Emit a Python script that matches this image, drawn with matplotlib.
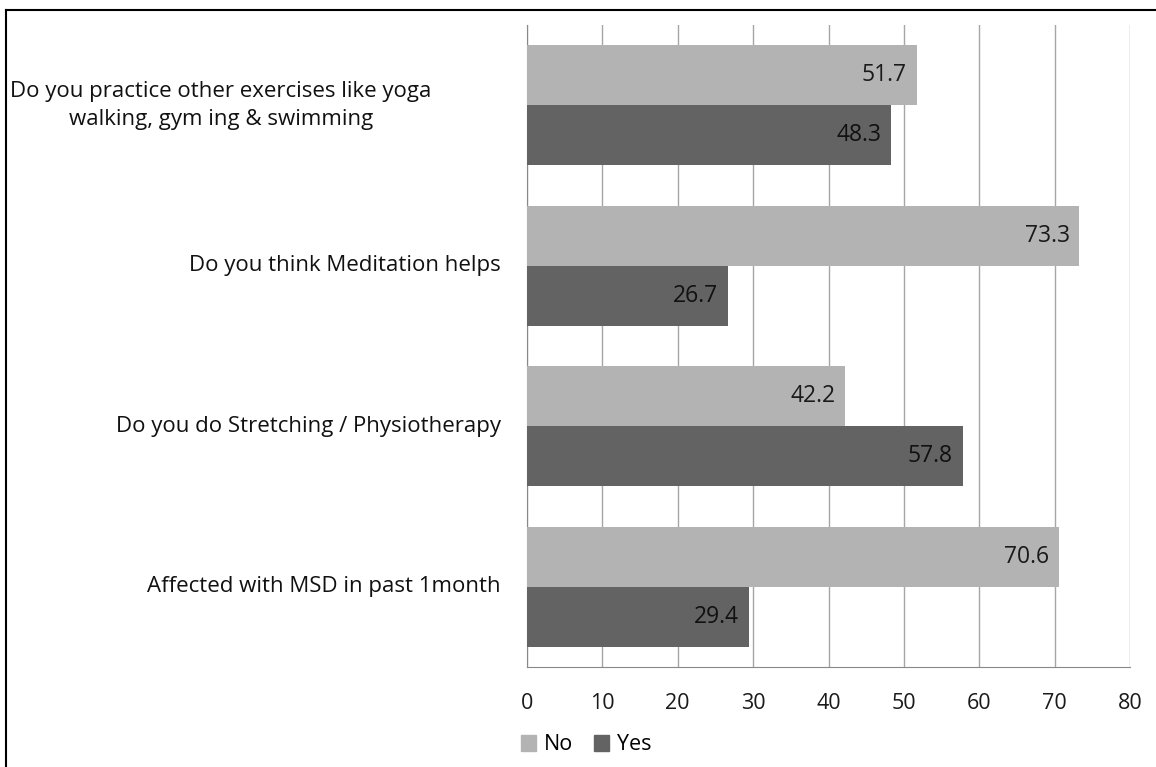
import matplotlib
matplotlib.use("Agg")
import matplotlib.pyplot as plt
import matplotlib.transforms as mtransforms
from matplotlib.lines import Line2D
import numpy as np

categories = [
    "Do you practice other exercises like yoga\nwalking, gym ing & swimming",
    "Do you think Meditation helps",
    "Do you do Stretching / Physiotherapy",
    "Affected with MSD in past 1month",
]
no_values = [51.7, 73.3, 42.2, 70.6]
yes_values = [48.3, 26.7, 57.8, 29.4]
xticks = [0, 10, 20, 30, 40, 50, 60, 70, 80]

plt.rcParams['font.family'] = ['Open Sans', 'DejaVu Sans']

W, H = 1156, 767
fig = plt.figure(figsize=(W / 100, H / 100), dpi=100)
ax = fig.add_axes([527 / W, 1 - 667 / H, (1130 - 527) / W, (667 - 25) / H])

no_color = "#b3b3b3"
yes_color = "#636363"
n = len(categories)
centers = np.arange(n)
bh = 0.375
ax.barh(centers - bh / 2, no_values, height=bh, color=no_color, label="No", zorder=3)
ax.barh(centers + bh / 2, yes_values, height=bh, color=yes_color, label="Yes", zorder=3)

vfs = 16.5
for c, v in zip(centers, no_values):
    ax.text(v - 1.3, c - bh / 2, f"{v}", ha="right", va="center", fontsize=vfs, color="#1a1a1a", zorder=4)
for c, v in zip(centers, yes_values):
    ax.text(v - 1.3, c + bh / 2, f"{v}", ha="right", va="center", fontsize=vfs, color="#111111", zorder=4)

ax.set_ylim(n - 0.5, -0.5)
ax.set_xlim(0, 80)
ax.set_xticks(xticks)
ax.set_xticklabels([str(t) for t in xticks], fontsize=15.5, color="#1a1a1a")
ax.set_yticks(centers)
ax.set_yticklabels([])
ax.tick_params(axis="y", length=0)
ax.tick_params(axis="x", length=0, pad=19)
ax.grid(axis="x", color="#a6a6a6", linewidth=1.0, zorder=0)
for s in ["top", "right"]:
    ax.spines[s].set_visible(False)
ax.spines["left"].set_color("#888888")
ax.spines["bottom"].set_color("#888888")

# category labels (Excel-like: wrapped label centered in its slot, others right aligned)
trans = mtransforms.blended_transform_factory(fig.transFigure, ax.transData)
for i, (c, lab) in enumerate(zip(centers, categories)):
    if "\n" in lab:
        ax.text(221 / W, c, lab, transform=trans, ha="center", va="center",
                multialignment="center", fontsize=16, color="#111111", linespacing=1.45)
    else:
        ax.text(501 / W, c, lab, transform=trans, ha="right", va="center",
                fontsize=16, color="#111111")

handles = [plt.Rectangle((0, 0), 1, 1, color=no_color), plt.Rectangle((0, 0), 1, 1, color=yes_color)]
fig.legend(handles, ["No", "Yes"], loc="center left", bbox_to_anchor=(521 / W, 1 - 745 / H),
           ncol=2, frameon=False, fontsize=15.5, handlelength=0.7, handleheight=0.7,
           handletextpad=0.35, columnspacing=1.0, borderpad=0, borderaxespad=0)

# figure frame (top and left only)
fig.add_artist(Line2D([6 / W, 1], [1 - 10 / H, 1 - 10 / H], color="black", linewidth=1.5, transform=fig.transFigure))
fig.add_artist(Line2D([6 / W, 6 / W], [0, 1 - 10 / H], color="black", linewidth=1.5, transform=fig.transFigure))

fig.savefig("out.png", dpi=100, facecolor="white")
